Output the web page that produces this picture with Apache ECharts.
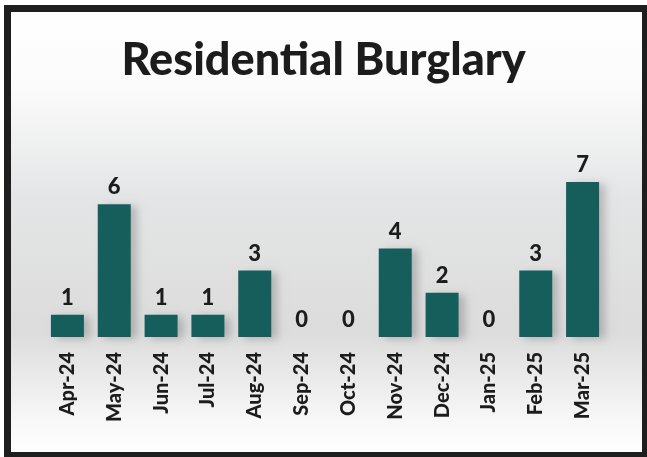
<!DOCTYPE html>
<html>
<head>
<meta charset="utf-8">
<script src="https://cdn.jsdelivr.net/npm/echarts@6/dist/echarts.min.js"></script>
<style>
  html, body { margin: 0; padding: 0; background: #fff; }
  #chart { width: 647px; height: 457px; }
</style>
</head>
<body>
<div id="chart"></div>
<script>
// monthly counts
const months = ['Apr-24', 'May-24', 'Jun-24', 'Jul-24', 'Aug-24', 'Sep-24',
  'Oct-24', 'Nov-24', 'Dec-24', 'Jan-25', 'Feb-25', 'Mar-25']
const burglaries = [1, 6, 1, 1, 3, 0, 0, 4, 2, 0, 3, 7]

const font = 'Lato'
const chart = echarts.init(document.getElementById('chart'))

// zero months get no visible bar, only the label
const barData = burglaries.map(v => v === 0
  ? { value: v, itemStyle: { color: 'rgba(0,0,0,0)', shadowBlur: 0, shadowColor: 'rgba(0,0,0,0)' } }
  : v)

const option = {
  animation: false,
  graphic: [
    {
      type: 'rect',
      z: -10,
      shape: { x: 7.5, y: 8.5, width: 638, height: 447 },
      style: {
        stroke: '#1e1e1e',
        lineWidth: 7,
        fill: {
          type: 'linear', x: 0, y: 0, x2: 0, y2: 1,
          colorStops: [
            { offset: 0, color: '#ffffff' },
            { offset: 0.18, color: '#fbfbfb' },
            { offset: 0.42, color: '#e4e5e6' },
            { offset: 0.72, color: '#dcdcdc' },
            { offset: 0.92, color: '#f8f8f8' },
            { offset: 1, color: '#ffffff' }
          ]
        }
      }
    }
  ],
  title: {
    text: 'Residential Burglary',
    left: 'center',
    top: 33,
    textStyle: { fontFamily: font, fontWeight: 900, fontSize: 45, color: '#1c1c1c' }
  },
  grid: { left: 44, right: 41, top: 182, bottom: 120 },
  xAxis: {
    type: 'category',
    data: months,
    axisLine: { show: false },
    axisTick: { show: false },
    axisLabel: {
      rotate: 90,
      margin: 15,
      fontFamily: font,
      fontWeight: 900,
      fontSize: 20,
      color: '#1c1c1c'
    }
  },
  yAxis: {
    type: 'value',
    min: 0,
    max: 7,
    show: false,
    splitLine: { show: false }
  },
  series: [
    {
      type: 'bar',
      data: barData,
      barWidth: 33,
      itemStyle: {
        color: '#165e5b',
        shadowColor: 'rgba(0,0,0,0.2)',
        shadowBlur: 8,
        shadowOffsetX: 6,
        shadowOffsetY: 2
      },
      label: {
        show: true,
        position: 'top',
        distance: 6,
        fontFamily: font,
        fontWeight: 900,
        fontSize: 22,
        color: '#1c1c1c'
      }
    }
  ]
}

chart.setOption(option)
</script>
</body>
</html>
